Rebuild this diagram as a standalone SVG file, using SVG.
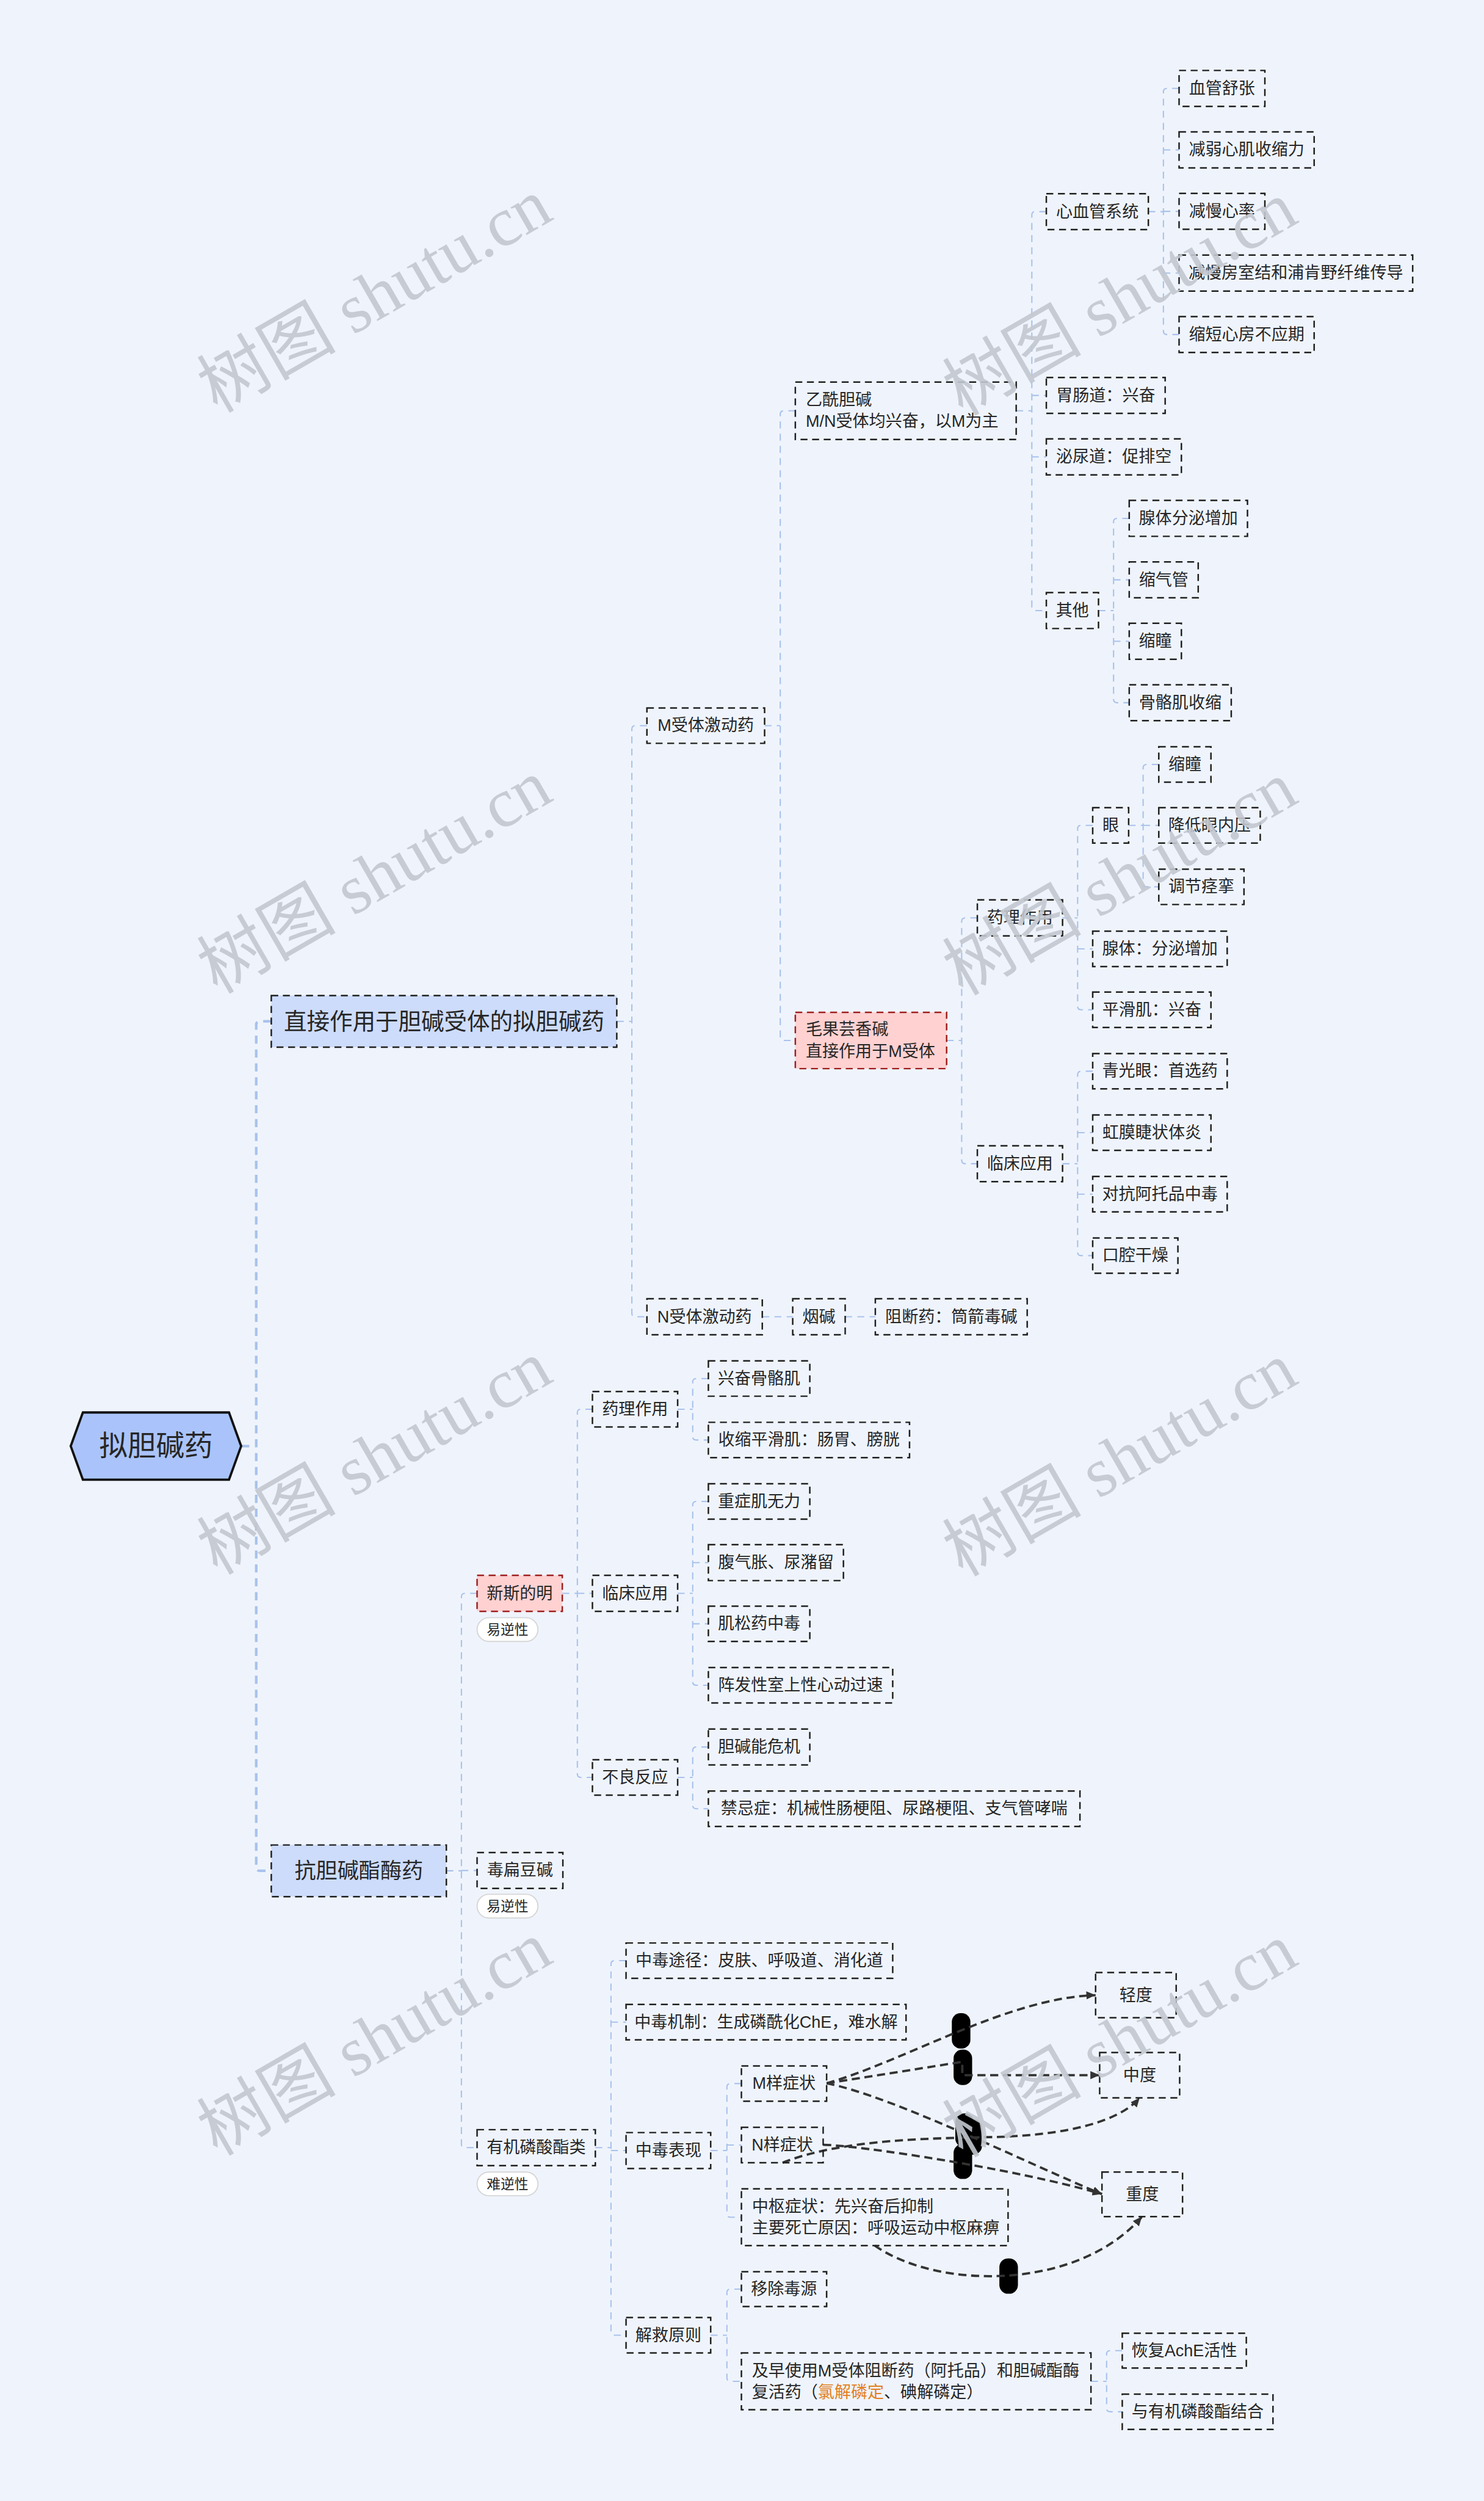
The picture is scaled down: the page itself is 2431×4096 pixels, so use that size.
<svg xmlns="http://www.w3.org/2000/svg" width="2431" height="4096" viewBox="0 0 2431 4096">
<style>
.bg{fill:#eff4fc}
.box{fill:none;stroke:#1f1f1f;stroke-width:2.6;stroke-dasharray:12 8}
.pink{fill:#ffd1d1;stroke:#9e1f1f}
.l1{fill:#cddcfb}
.t,.t tspan{font-family:"Liberation Sans","Noto Sans CJK SC",sans-serif;font-size:28.5px;fill:#262626;dominant-baseline:central}
.c{text-anchor:middle}
.pill{fill:#ffffff;stroke:#d6d6d6;stroke-width:2}
.pt{font-size:24px}
.ln{fill:none;stroke:#a9c2ec;stroke-width:2.2;stroke-dasharray:12 9}
.ln1{stroke-width:4.5;stroke-dasharray:14 10}
.arr{fill:none;stroke:#333333;stroke-width:4;stroke-dasharray:14 8;marker-end:url(#ah)}
.lab{fill:#000000}
.wm{font-family:"Liberation Serif","Noto Sans CJK SC",serif;font-size:120px;fill:#c3c8d0;opacity:0.9;text-anchor:middle;dominant-baseline:central}
</style>
<defs>
<marker id="ah" markerUnits="userSpaceOnUse" markerWidth="18" markerHeight="16" refX="16" refY="7" orient="auto">
<path d="M0,0 L16,7 L0,14 z" fill="#333333"/>
</marker>
</defs>
<rect class="bg" x="0" y="0" width="2431" height="4096"/>
<g transform="scale(0.9496)">
<g id="connectors">
<path class="ln ln1" d="M416,2494 H442 M468,1761.5 H448 Q442,1761.5 442,1767.5 V3220.5 Q442,3226.5 448,3226.5 H468"/>
<path class="ln" d="M1064,1761.5 H1090 M1116,1251.5 H1096 Q1090,1251.5 1090,1257.5 V2265 Q1090,2271 1096,2271 H1116"/>
<path class="ln" d="M1319,1251.5 H1346 M1372,708.5 H1352 Q1346,708.5 1346,714.5 V1788.5 Q1346,1794.5 1352,1794.5 H1372"/>
<path class="ln" d="M1753,708.5 H1780 M1805,365 H1786 Q1780,365 1780,371 V1047 Q1780,1053 1786,1053 H1805 M1780,682 H1805 M1780,788 H1805"/>
<path class="ln" d="M1981,365 H2007 M2034,152.5 H2013 Q2007,152.5 2007,158.5 V571 Q2007,577 2013,577 H2034 M2007,258.5 H2034 M2007,364.5 H2034 M2007,471 H2034"/>
<path class="ln" d="M1895,1053 H1921 M1948,894 H1927 Q1921,894 1921,900 V1206 Q1921,1212 1927,1212 H1948 M1921,1000 H1948 M1921,1106 H1948"/>
<path class="ln" d="M1633,1794.5 H1659 M1686,1583 H1665 Q1659,1583 1659,1589 V2001 Q1659,2007 1665,2007 H1686"/>
<path class="ln" d="M1833,1583 H1859 M1885,1423.5 H1865 Q1859,1423.5 1859,1429.5 V1735.5 Q1859,1741.5 1865,1741.5 H1885 M1859,1636.5 H1885"/>
<path class="ln" d="M1947,1423.5 H1972 M1999,1318.5 H1978 Q1972,1318.5 1972,1324.5 V1523.5 Q1972,1529.5 1978,1529.5 H1999 M1972,1423.5 H1999"/>
<path class="ln" d="M1833,2007 H1859 M1885,1847.5 H1865 Q1859,1847.5 1859,1853.5 V2159.5 Q1859,2165.5 1865,2165.5 H1885 M1859,1953.5 H1885 M1859,2059.5 H1885"/>
<path class="ln" d="M1315,2271 H1367.5 M1458,2271 H1510"/>
<path class="ln" d="M770,3226.5 H796 M823,2748 H802 Q796,2748 796,2754 V3698 Q796,3704 802,3704 H823 M796,3226 H823"/>
<path class="ln" d="M970,2748 H996 M1022,2430.5 H1002 Q996,2430.5 996,2436.5 V3059.5 Q996,3065.5 1002,3065.5 H1022 M996,2748 H1022"/>
<path class="ln" d="M1169,2430.5 H1195 M1222,2377.5 H1201 Q1195,2377.5 1195,2383.5 V2477.5 Q1195,2483.5 1201,2483.5 H1222"/>
<path class="ln" d="M1169,2748 H1195 M1222,2589.5 H1201 Q1195,2589.5 1195,2595.5 V2900.5 Q1195,2906.5 1201,2906.5 H1222 M1195,2695 H1222 M1195,2800.5 H1222"/>
<path class="ln" d="M1169,3065.5 H1195 M1222,3013 H1201 Q1195,3013 1195,3019 V3113.5 Q1195,3119.5 1201,3119.5 H1222"/>
<path class="ln" d="M1027,3704 H1054 M1080,3381.5 H1060 Q1054,3381.5 1054,3387.5 V4021.5 Q1054,4027.5 1060,4027.5 H1080 M1054,3487.5 H1080 M1054,3709 H1080"/>
<path class="ln" d="M1226,3709 H1254 M1279,3593.5 H1260 Q1254,3593.5 1254,3599.5 V3818 Q1254,3824 1260,3824 H1279 M1254,3699.5 H1279"/>
<path class="ln" d="M1226,4027.5 H1254 M1279,3948 H1260 Q1254,3948 1254,3954 V4101 Q1254,4107 1260,4107 H1279"/>
<path class="ln" d="M1882,4107 H1909 M1936,4054 H1915 Q1909,4054 1909,4060 V4153.5 Q1909,4159.5 1915,4159.5 H1936"/>
<rect class="lab" x="1642" y="3472" width="32" height="61" rx="15"/>
<rect class="lab" x="1645" y="3535" width="32" height="61" rx="15"/>
<rect class="lab" x="1648" y="3645" width="32" height="58" rx="15"/>
<rect class="lab" x="1662" y="3655" width="32" height="61" rx="15"/>
<rect class="lab" x="1645" y="3698" width="32" height="60" rx="15"/>
<rect class="lab" x="1724" y="3895" width="32" height="61" rx="15"/>
<path class="arr" d="M1426,3593 C1560,3555 1740,3445 1890,3441"/>
<path class="arr" d="M1426,3593 L1660,3556 L1660,3579 L1897,3579"/>
<path class="arr" d="M1426,3593 C1540,3615 1780,3735 1901,3784"/>
<path class="arr" d="M1350,3730 C1450,3690 1600,3688 1700,3686 C1850,3684 1935,3655 1966,3618"/>
<path class="arr" d="M1420,3699 C1480,3700 1750,3740 1901,3784"/>
<path class="arr" d="M1509,3873 C1620,3950 1860,3950 1970,3823"/>
</g>
<g id="root"><polygon points="122,2494 143,2436 395,2436 416,2494 395,2552 143,2552" fill="#aac4fb" stroke="#111111" stroke-width="4"/><text class="t c" x="269" y="2494" style="font-size:49px">拟胆碱药</text></g>
<g id="n-direct"><rect class="box l1" x="468" y="1717" width="596" height="89"/><text class="t c" x="766" y="1761.5" style="font-size:39.5px">直接作用于胆碱受体的拟胆碱药</text></g>
<g id="n-anti"><rect class="box l1" x="468" y="3182" width="302" height="89"/><text class="t c" x="619" y="3226.5" style="font-size:37px">抗胆碱酯酶药</text></g>
<g id="n-m"><rect class="box" x="1116" y="1221" width="203" height="61"/><text class="t c" x="1217.5" y="1251.5">M受体激动药</text></g>
<g id="n-n"><rect class="box" x="1116" y="2240" width="199" height="62"/><text class="t c" x="1215.5" y="2271">N受体激动药</text></g>
<g id="n-nic"><rect class="box" x="1367.5" y="2240" width="90.5" height="62"/><text class="t c" x="1412.75" y="2271">烟碱</text></g>
<g id="n-block"><rect class="box" x="1510" y="2240" width="262" height="62"/><text class="t c" x="1641" y="2271">阻断药：筒箭毒碱</text></g>
<g id="n-ach"><rect class="box" x="1372" y="659" width="381" height="99"/><text class="t"><tspan x="1390" y="690">乙酰胆碱</tspan><tspan x="1390" y="727">M/N受体均兴奋，以M为主</tspan></text></g>
<g id="n-pilo"><rect class="box pink" x="1372" y="1746" width="261" height="97"/><text class="t"><tspan x="1390" y="1776">毛果芸香碱</tspan><tspan x="1390" y="1813">直接作用于M受体</tspan></text></g>
<g id="n-cv"><rect class="box" x="1805" y="334" width="176" height="62"/><text class="t c" x="1893" y="365">心血管系统</text></g>
<g id="n-gi"><rect class="box" x="1805" y="651" width="205" height="62"/><text class="t c" x="1907.5" y="682">胃肠道：兴奋</text></g>
<g id="n-uri"><rect class="box" x="1805" y="757" width="233" height="62"/><text class="t c" x="1921.5" y="788">泌尿道：促排空</text></g>
<g id="n-other"><rect class="box" x="1805" y="1022" width="90" height="62"/><text class="t c" x="1850" y="1053">其他</text></g>
<g id="n-cv1"><rect class="box" x="2034" y="121.5" width="148" height="62"/><text class="t c" x="2108" y="152.5">血管舒张</text></g>
<g id="n-cv2"><rect class="box" x="2034" y="227.5" width="233" height="62"/><text class="t c" x="2150.5" y="258.5">减弱心肌收缩力</text></g>
<g id="n-cv3"><rect class="box" x="2034" y="333.5" width="148" height="62"/><text class="t c" x="2108" y="364.5">减慢心率</text></g>
<g id="n-cv4"><rect class="box" x="2034" y="440" width="403" height="62"/><text class="t c" x="2235.5" y="471">减慢房室结和浦肯野纤维传导</text></g>
<g id="n-cv5"><rect class="box" x="2034" y="546" width="233" height="62"/><text class="t c" x="2150.5" y="577">缩短心房不应期</text></g>
<g id="n-o1"><rect class="box" x="1948" y="863" width="204" height="62"/><text class="t c" x="2050" y="894">腺体分泌增加</text></g>
<g id="n-o2"><rect class="box" x="1948" y="969" width="119" height="62"/><text class="t c" x="2007.5" y="1000">缩气管</text></g>
<g id="n-o3"><rect class="box" x="1948" y="1075" width="90" height="62"/><text class="t c" x="1993" y="1106">缩瞳</text></g>
<g id="n-o4"><rect class="box" x="1948" y="1181" width="176" height="62"/><text class="t c" x="2036" y="1212">骨骼肌收缩</text></g>
<g id="n-pharm1"><rect class="box" x="1686" y="1552" width="147" height="62"/><text class="t c" x="1759.5" y="1583">药理作用</text></g>
<g id="n-clin1"><rect class="box" x="1686" y="1976" width="147" height="62"/><text class="t c" x="1759.5" y="2007">临床应用</text></g>
<g id="n-eye"><rect class="box" x="1885" y="1393" width="62" height="61"/><text class="t c" x="1916" y="1423.5">眼</text></g>
<g id="n-gland"><rect class="box" x="1885" y="1606" width="232" height="61"/><text class="t c" x="2001" y="1636.5">腺体：分泌增加</text></g>
<g id="n-smooth"><rect class="box" x="1885" y="1711" width="204" height="61"/><text class="t c" x="1987" y="1741.5">平滑肌：兴奋</text></g>
<g id="n-e1"><rect class="box" x="1999" y="1288" width="90" height="61"/><text class="t c" x="2044" y="1318.5">缩瞳</text></g>
<g id="n-e2"><rect class="box" x="1999" y="1393" width="175" height="61"/><text class="t c" x="2086.5" y="1423.5">降低眼内压</text></g>
<g id="n-e3"><rect class="box" x="1999" y="1499" width="147" height="61"/><text class="t c" x="2072.5" y="1529.5">调节痉挛</text></g>
<g id="n-c1"><rect class="box" x="1885" y="1817" width="232" height="61"/><text class="t c" x="2001" y="1847.5">青光眼：首选药</text></g>
<g id="n-c2"><rect class="box" x="1885" y="1923" width="204" height="61"/><text class="t c" x="1987" y="1953.5">虹膜睫状体炎</text></g>
<g id="n-c3"><rect class="box" x="1885" y="2029" width="232" height="61"/><text class="t c" x="2001" y="2059.5">对抗阿托品中毒</text></g>
<g id="n-c4"><rect class="box" x="1885" y="2135" width="147" height="61"/><text class="t c" x="1958.5" y="2165.5">口腔干燥</text></g>
<g id="n-neo"><rect class="box pink" x="823" y="2717" width="147" height="62"/><text class="t c" x="896.5" y="2748">新斯的明</text><rect class="pill" x="823" y="2790" width="105" height="41" rx="20.5"/><text class="t c pt" x="875.5" y="2810.5" style="font-size:24px">易逆性</text></g>
<g id="n-phy"><rect class="box" x="823" y="3195" width="148" height="62"/><text class="t c" x="897" y="3226">毒扁豆碱</text><rect class="pill" x="823" y="3267" width="105" height="41" rx="20.5"/><text class="t c pt" x="875.5" y="3287.5" style="font-size:24px">易逆性</text></g>
<g id="n-op"><rect class="box" x="823" y="3673" width="204" height="62"/><text class="t c" x="925" y="3704">有机磷酸酯类</text><rect class="pill" x="823" y="3746" width="105" height="41" rx="20.5"/><text class="t c pt" x="875.5" y="3766.5" style="font-size:24px">难逆性</text></g>
<g id="n-pharm2"><rect class="box" x="1022" y="2400" width="147" height="61"/><text class="t c" x="1095.5" y="2430.5">药理作用</text></g>
<g id="n-clin2"><rect class="box" x="1022" y="2717" width="147" height="62"/><text class="t c" x="1095.5" y="2748">临床应用</text></g>
<g id="n-adv"><rect class="box" x="1022" y="3035" width="147" height="61"/><text class="t c" x="1095.5" y="3065.5">不良反应</text></g>
<g id="n-p1"><rect class="box" x="1222" y="2347" width="175" height="61"/><text class="t c" x="1309.5" y="2377.5">兴奋骨骼肌</text></g>
<g id="n-p2"><rect class="box" x="1222" y="2453" width="347" height="61"/><text class="t c" x="1395.5" y="2483.5">收缩平滑肌：肠胃、膀胱</text></g>
<g id="n-k1"><rect class="box" x="1222" y="2559" width="175" height="61"/><text class="t c" x="1309.5" y="2589.5">重症肌无力</text></g>
<g id="n-k2"><rect class="box" x="1222" y="2664" width="233" height="62"/><text class="t c" x="1338.5" y="2695">腹气胀、尿潴留</text></g>
<g id="n-k3"><rect class="box" x="1222" y="2770" width="175" height="61"/><text class="t c" x="1309.5" y="2800.5">肌松药中毒</text></g>
<g id="n-k4"><rect class="box" x="1222" y="2876" width="318" height="61"/><text class="t c" x="1381" y="2906.5">阵发性室上性心动过速</text></g>
<g id="n-a1"><rect class="box" x="1222" y="2982" width="175" height="62"/><text class="t c" x="1309.5" y="3013">胆碱能危机</text></g>
<g id="n-a2"><rect class="box" x="1222" y="3089" width="641" height="61"/><text class="t c" x="1542.5" y="3119.5">禁忌症：机械性肠梗阻、尿路梗阻、支气管哮喘</text></g>
<g id="n-route"><rect class="box" x="1080" y="3351" width="460" height="61"/><text class="t c" x="1310" y="3381.5">中毒途径：皮肤、呼吸道、消化道</text></g>
<g id="n-mech"><rect class="box" x="1080" y="3457" width="483" height="61"/><text class="t c" x="1321.5" y="3487.5">中毒机制：生成磷酰化ChE，难水解</text></g>
<g id="n-sym"><rect class="box" x="1080" y="3678" width="146" height="62"/><text class="t c" x="1153" y="3709">中毒表现</text></g>
<g id="n-rescue"><rect class="box" x="1080" y="3997" width="146" height="61"/><text class="t c" x="1153" y="4027.5">解救原则</text></g>
<g id="n-msym"><rect class="box" x="1279" y="3563" width="147" height="61"/><text class="t c" x="1352.5" y="3593.5">M样症状</text></g>
<g id="n-nsym"><rect class="box" x="1279" y="3669" width="141" height="61"/><text class="t c" x="1349.5" y="3699.5">N样症状</text></g>
<g id="n-csym"><rect class="box" x="1279" y="3775" width="460" height="98"/><text class="t"><tspan x="1297" y="3806">中枢症状：先兴奋后抑制</tspan><tspan x="1297" y="3843">主要死亡原因：呼吸运动中枢麻痹</tspan></text></g>
<g id="n-remove"><rect class="box" x="1279" y="3918" width="147" height="60"/><text class="t c" x="1352.5" y="3948">移除毒源</text></g>
<g id="n-early"><rect class="box" x="1279" y="4058" width="603" height="98"/><text class="t"><tspan x="1297" y="4089">及早使用M受体阻断药（阿托品）和胆碱酯酶</tspan><tspan x="1297" y="4126">复活药（<tspan fill="#e3801f" style="fill:#e3801f">氯解磷定</tspan>、碘解磷定）</tspan></text></g>
<g id="n-r1"><rect class="box" x="1936" y="4024" width="214" height="60"/><text class="t c" x="2043" y="4054">恢复AchE活性</text></g>
<g id="n-r2"><rect class="box" x="1936" y="4129" width="260" height="61"/><text class="t c" x="2066" y="4159.5">与有机磷酸酯结合</text></g>
<g id="n-mild"><rect class="box" x="1890" y="3402" width="139" height="78"/><text class="t c" x="1959.5" y="3441">轻度</text></g>
<g id="n-mod"><rect class="box" x="1897" y="3540" width="138" height="78"/><text class="t c" x="1966" y="3579">中度</text></g>
<g id="n-sev"><rect class="box" x="1901" y="3746" width="139" height="77"/><text class="t c" x="1970.5" y="3784.5">重度</text></g>
<g id="watermarks">
<text class="wm" transform="translate(646,510) rotate(-30)">树图 shutu.cn</text>
<text class="wm" transform="translate(1932,515) rotate(-30)">树图 shutu.cn</text>
<text class="wm" transform="translate(646,1512) rotate(-30)">树图 shutu.cn</text>
<text class="wm" transform="translate(1932,1515) rotate(-30)">树图 shutu.cn</text>
<text class="wm" transform="translate(646,2514) rotate(-30)">树图 shutu.cn</text>
<text class="wm" transform="translate(1932,2517) rotate(-30)">树图 shutu.cn</text>
<text class="wm" transform="translate(646,3516) rotate(-30)">树图 shutu.cn</text>
<text class="wm" transform="translate(1932,3519) rotate(-30)">树图 shutu.cn</text>
</g>
</g>
</svg>
